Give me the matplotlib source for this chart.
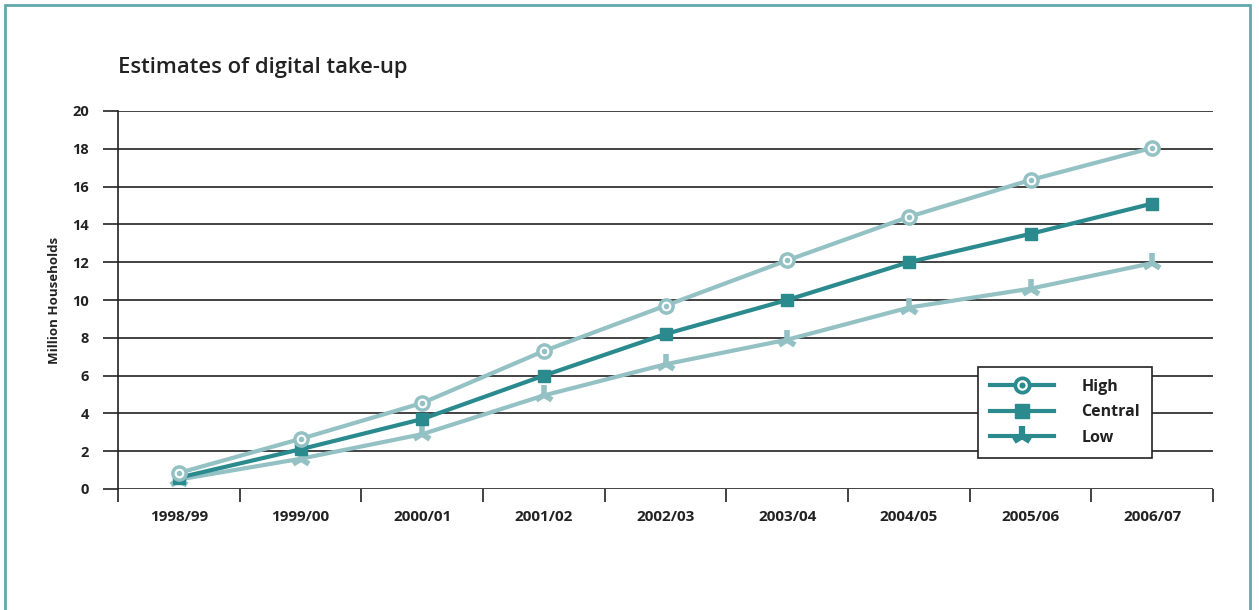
import matplotlib
matplotlib.use("Agg")
from matplotlib import pyplot as plt
from matplotlib.lines import Line2D
from matplotlib.patches import Rectangle
from matplotlib.legend_handler import HandlerTuple

years = ['1998/99', '1999/00', '2000/01', '2001/02', '2002/03',
         '2003/04', '2004/05', '2005/06', '2006/07']
high = [0.85, 2.65, 4.55, 7.3, 9.7, 12.1, 14.4, 16.35, 18.05]
central = [0.6, 2.1, 3.7, 6.0, 8.2, 10.0, 12.0, 13.5, 15.1]
low = [0.5, 1.6, 2.9, 4.95, 6.6, 7.9, 9.6, 10.6, 11.95]

light = '#93c1c4'
dark = '#2a8a8e'
ink = '#222222'

plt.rcParams['font.family'] = ['Open Sans', 'DejaVu Sans']

fig = plt.figure(dpi=100, figsize=(12.59, 6.10))
fig.patches.append(Rectangle((5 / 1259, -0.05), 1245 / 1259, 1 - 5 / 610 + 0.05,
                             transform=fig.transFigure, fill=False,
                             edgecolor='#5fa9ad', linewidth=2))
ax = fig.add_axes([118 / 1259, 1 - 489 / 610, (1213 - 118) / 1259, (489 - 111) / 610])

x = list(range(len(years)))
ax.plot(x, low, color=light, lw=3, marker='2', ms=14, mew=4, zorder=3)
ax.plot(x, central, color=dark, lw=3, marker='s', ms=9, zorder=4)
ax.plot(x, high, color=light, lw=3, marker='o', ms=11, zorder=5)
ax.plot(x, high, ls='none', marker='o', ms=5.5, mfc=light, mec='white', mew=1.5, zorder=6)

ax.set_xlim(-0.5, len(years) - 0.5)
ax.set_ylim(0, 20)
ax.set_yticks(range(0, 21, 2))
ax.set_xticks(x)
ax.set_xticklabels(years)
ax.set_xticks([i - 0.5 for i in range(len(years) + 1)], minor=True)
ax.grid(axis='y', color=ink, lw=1.2)
ax.set_axisbelow(True)

for s in ['top', 'right', 'bottom']:
    ax.spines[s].set_visible(False)
ax.spines['left'].set_color(ink)
ax.spines['left'].set_linewidth(1.2)

ax.tick_params(axis='y', length=11, width=1.2, color=ink, pad=10,
               labelsize=10.5, labelcolor=ink)
ax.tick_params(axis='x', which='major', length=0, pad=15, labelsize=11, labelcolor=ink)
ax.tick_params(axis='x', which='minor', length=9, width=1.2, color=ink)
for lab in ax.get_xticklabels() + ax.get_yticklabels():
    lab.set_fontweight('bold')

ax.set_ylabel('Million Households', fontsize=9.5, fontweight='bold', color=ink, labelpad=8)
fig.text(118 / 1259, 1 - 68 / 610, 'Estimates of digital take-up', fontsize=15.8,
         fontweight='semibold', color=ink, va='center')

h_high = (Line2D([], [], color=dark, lw=3, marker='o', ms=12),
          Line2D([], [], ls='none', marker='o', ms=6, mfc=dark, mec='white', mew=1.6))
h_central = Line2D([], [], color=dark, lw=3, marker='s', ms=10)
h_low = Line2D([], [], color=dark, lw=3, marker='2', ms=15, mew=4.5)
leg = ax.legend([h_high, h_central, h_low], ['High', 'Central', 'Low'],
                handler_map={tuple: HandlerTuple(ndivide=1, pad=0)},
                loc='lower right', bbox_to_anchor=(0.9443, 0.082), borderaxespad=0,
                fancybox=False, framealpha=1, edgecolor=ink, handlelength=4.0,
                handletextpad=1.7, borderpad=0.75, labelspacing=0.6,
                prop={'weight': 'bold', 'size': 11.5})
leg.get_frame().set_linewidth(1.2)
for t in leg.get_texts():
    t.set_color(ink)

fig.savefig('out.png', dpi=100)
